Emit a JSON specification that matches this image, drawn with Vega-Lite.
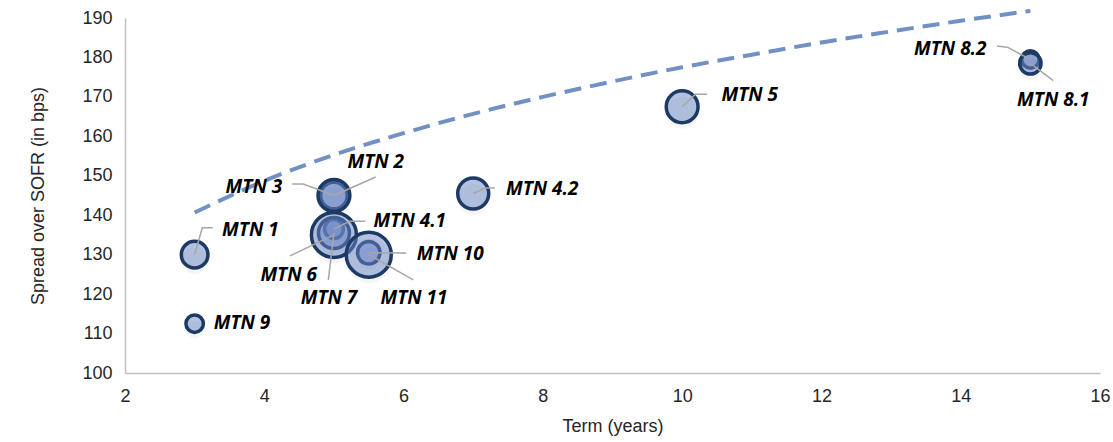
{
  "$schema": "https://vega.github.io/schema/vega-lite/v6.json",
  "width": 975,
  "height": 355,
  "autosize": "none",
  "padding": {"left": 125, "top": 18, "right": 13, "bottom": 69},
  "background": "white",
  "config": {
    "view": {"stroke": null},
    "axis": {
      "grid": false,
      "ticks": false,
      "tickSize": 0,
      "labelFlush": false,
      "labelOverlap": false,
      "format": "d",
      "domainColor": "#bfbfbf",
      "domainWidth": 1.5,
      "labelFont": "Liberation Sans",
      "labelFontSize": 18,
      "labelColor": "#262626",
      "titleFont": "Liberation Sans",
      "titleFontSize": 18,
      "titleFontWeight": "normal",
      "titleColor": "#262626"
    }
  },
  "datasets": {
    "notes": [
      {"label": "MTN 1", "term": 3, "spread": 130, "amount": 350, "labelTerm": 3.8, "labelSpread": 136.3},
      {"label": "MTN 2", "term": 5, "spread": 145, "amount": 500, "labelTerm": 5.6, "labelSpread": 153.5},
      {"label": "MTN 3", "term": 5, "spread": 145, "amount": 350, "labelTerm": 3.85, "labelSpread": 147.2},
      {"label": "MTN 4.1", "term": 5, "spread": 136.5, "amount": 175, "labelTerm": 6.09, "labelSpread": 138.5},
      {"label": "MTN 4.2", "term": 7, "spread": 145.5, "amount": 475, "labelTerm": 7.99, "labelSpread": 146.6},
      {"label": "MTN 5", "term": 10, "spread": 167.5, "amount": 500, "labelTerm": 10.97, "labelSpread": 170.5},
      {"label": "MTN 6", "term": 5, "spread": 135, "amount": 1000, "labelTerm": 4.35, "labelSpread": 124.8},
      {"label": "MTN 7", "term": 5, "spread": 135.5, "amount": 475, "labelTerm": 4.93, "labelSpread": 119},
      {"label": "MTN 8.1", "term": 15, "spread": 178.5, "amount": 225, "labelTerm": 15.33, "labelSpread": 169.2},
      {"label": "MTN 8.2", "term": 15, "spread": 179.5, "amount": 150, "labelTerm": 13.85, "labelSpread": 182.1},
      {"label": "MTN 9", "term": 3, "spread": 112.5, "amount": 150, "labelTerm": 3.68, "labelSpread": 112.7},
      {"label": "MTN 10", "term": 5.5, "spread": 130.5, "amount": 250, "labelTerm": 6.67, "labelSpread": 130.2},
      {"label": "MTN 11", "term": 5.5, "spread": 130, "amount": 1000, "labelTerm": 6.15, "labelSpread": 119}
    ],
    "leaders": [
      {"label": "MTN 1", "step": 1, "term": 3.26, "spread": 136.8},
      {"label": "MTN 1", "step": 2, "term": 3.11, "spread": 136.8},
      {"label": "MTN 1", "step": 3, "term": 3, "spread": 130},
      {"label": "MTN 2", "step": 1, "term": 5.6, "spread": 149.7},
      {"label": "MTN 2", "step": 2, "term": 5, "spread": 145},
      {"label": "MTN 3", "step": 1, "term": 4.4, "spread": 147.9},
      {"label": "MTN 3", "step": 2, "term": 4.56, "spread": 147.9},
      {"label": "MTN 3", "step": 3, "term": 5, "spread": 145},
      {"label": "MTN 4.1", "step": 1, "term": 5.45, "spread": 138.5},
      {"label": "MTN 4.1", "step": 2, "term": 5.23, "spread": 138.5},
      {"label": "MTN 4.1", "step": 3, "term": 5, "spread": 136.5},
      {"label": "MTN 4.2", "step": 1, "term": 7.31, "spread": 146.9},
      {"label": "MTN 4.2", "step": 2, "term": 7.17, "spread": 146.9},
      {"label": "MTN 4.2", "step": 3, "term": 7, "spread": 145.5},
      {"label": "MTN 5", "step": 1, "term": 10.36, "spread": 170.7},
      {"label": "MTN 5", "step": 2, "term": 10.19, "spread": 170.7},
      {"label": "MTN 5", "step": 3, "term": 10, "spread": 167.5},
      {"label": "MTN 6", "step": 1, "term": 4.37, "spread": 129.7},
      {"label": "MTN 6", "step": 2, "term": 5, "spread": 135},
      {"label": "MTN 7", "step": 1, "term": 4.92, "spread": 123.6},
      {"label": "MTN 7", "step": 2, "term": 5, "spread": 135.5},
      {"label": "MTN 8.1", "step": 1, "term": 15.33, "spread": 174.1},
      {"label": "MTN 8.1", "step": 2, "term": 15, "spread": 178.5},
      {"label": "MTN 8.2", "step": 1, "term": 14.52, "spread": 182.9},
      {"label": "MTN 8.2", "step": 2, "term": 14.67, "spread": 182.6},
      {"label": "MTN 8.2", "step": 3, "term": 15, "spread": 179.5},
      {"label": "MTN 10", "step": 1, "term": 6.04, "spread": 130.4},
      {"label": "MTN 10", "step": 2, "term": 5.5, "spread": 130.5},
      {"label": "MTN 11", "step": 1, "term": 6.14, "spread": 123.6},
      {"label": "MTN 11", "step": 2, "term": 5.5, "spread": 130}
    ],
    "trend": [
      {"term": 3, "spread": 140.7},
      {"term": 4, "spread": 148.7},
      {"term": 5, "spread": 155.3},
      {"term": 6, "spread": 160.8},
      {"term": 7, "spread": 165.7},
      {"term": 8, "spread": 170.0},
      {"term": 9, "spread": 173.9},
      {"term": 10, "spread": 177.5},
      {"term": 11, "spread": 180.7},
      {"term": 12, "spread": 183.8},
      {"term": 13, "spread": 186.6},
      {"term": 14, "spread": 189.3},
      {"term": 15, "spread": 191.8}
    ]
  },
  "layer": [
    {
      "data": {"name": "trend"},
      "mark": {"type": "line", "interpolate": "monotone", "color": "#7190c4", "strokeWidth": 4, "strokeDash": [17, 9]},
      "encoding": {
        "x": {
          "field": "term", "type": "quantitative",
          "scale": {"domain": [2, 16], "nice": false, "zero": false},
          "axis": {"values": [2, 4, 6, 8, 10, 12, 14, 16], "labelOverlap": false, "labelPadding": 14, "title": "Term (years)", "titlePadding": 12}
        },
        "y": {
          "field": "spread", "type": "quantitative",
          "scale": {"domain": [100, 190], "nice": false, "zero": false},
          "axis": {"values": [100, 110, 120, 130, 140, 150, 160, 170, 180, 190], "tickCount": 10, "labelOverlap": false, "labelPadding": 13, "title": "Spread over SOFR (in bps)", "titlePadding": 34}
        }
      }
    },
    {
      "data": {"name": "notes"},
      "mark": {"type": "circle", "color": "#000000", "opacity": 0.04, "yOffset": 6},
      "encoding": {
        "x": {"field": "term", "type": "quantitative"},
        "y": {"field": "spread", "type": "quantitative"},
        "size": {"field": "amount", "type": "quantitative", "scale": {"domain": [0, 1000], "range": [0, 2025]}, "legend": null}
      }
    },
    {
      "data": {"name": "notes"},
      "mark": {"type": "circle", "fill": "#6985c5", "fillOpacity": 0.5, "stroke": "#1c3a64", "strokeWidth": 3.5, "strokeOpacity": 1},
      "encoding": {
        "x": {"field": "term", "type": "quantitative"},
        "y": {"field": "spread", "type": "quantitative"},
        "size": {"field": "amount", "type": "quantitative", "legend": null},
        "order": {"field": "amount", "type": "quantitative", "sort": "ascending"}
      }
    },
    {
      "data": {"name": "leaders"},
      "mark": {"type": "line", "color": "#a6a6a6", "strokeWidth": 1.5},
      "encoding": {
        "x": {"field": "term", "type": "quantitative"},
        "y": {"field": "spread", "type": "quantitative"},
        "detail": {"field": "label", "type": "nominal"},
        "order": {"field": "step", "type": "quantitative"}
      }
    },
    {
      "data": {"name": "notes"},
      "mark": {"type": "text", "font": "Open Sans", "fontSize": 19, "fontWeight": "bold", "fontStyle": "italic", "color": "#000000", "align": "center", "baseline": "middle"},
      "encoding": {
        "x": {"field": "labelTerm", "type": "quantitative"},
        "y": {"field": "labelSpread", "type": "quantitative"},
        "text": {"field": "label", "type": "nominal"}
      }
    }
  ]
}
